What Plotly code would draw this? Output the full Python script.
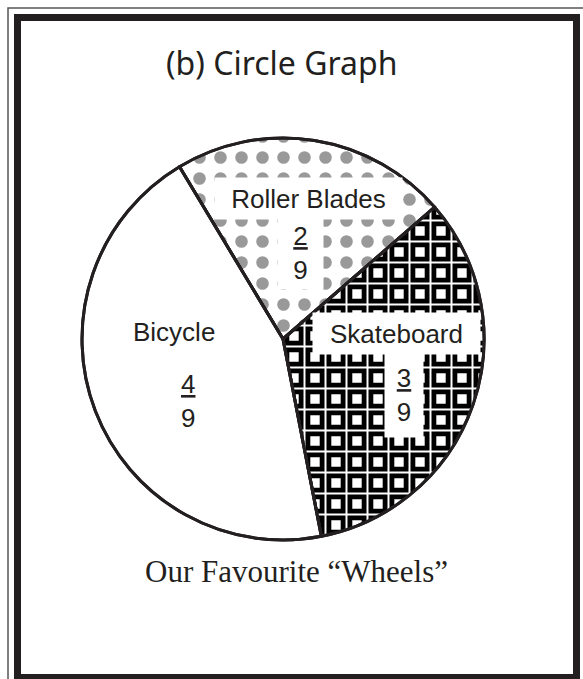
import plotly.graph_objects as go

# data
labels = ["Roller Blades", "Skateboard", "Bicycle"]
counts = [2, 3, 4]
total = 9
chart_title = "(b) Circle Graph"
caption = "Our Favourite \u201cWheels\u201d"

W, H = 583, 679
INK = "#231f20"


def px(x):
    return x / W


def py(y):
    return 1 - y / H


# label / fraction boxes, in pixels: (cx, cy, box w, box h)
label_pos = {
    "Roller Blades": ((308, 198, 187, 41), (300, 253, 45, 72)),
    "Skateboard": ((396, 333, 167, 41), (404, 395, 38, 84)),
    "Bicycle": ((174, 332, None, None), (188, 401, None, None)),
}

pie_domain = dict(x=[px(82), px(484)], y=[py(540), py(138)])

fig = go.Figure()

# base pie with fill patterns
fig.add_trace(go.Pie(
    labels=labels,
    values=counts,
    sort=False,
    direction="clockwise",
    rotation=-31,
    textinfo="none",
    hoverinfo="label+value",
    domain=pie_domain,
    marker=dict(
        colors=["white", "white", "white"],
        line=dict(color=INK, width=3),
        pattern=dict(
            shape=[".", "+", ""],
            fgcolor=["#999999", "black", "white"],
            bgcolor=["white", "white", "white"],
            size=[21, 21, 10],
            solidity=[0.28, 0.8, 0.1],
            fillmode="replace",
        ),
    ),
))

# thin white lines running through the black grid of the skateboard slice
fig.add_trace(go.Pie(
    labels=labels,
    values=counts,
    sort=False,
    direction="clockwise",
    rotation=-31,
    textinfo="none",
    hoverinfo="skip",
    domain=pie_domain,
    marker=dict(
        colors=["rgba(0,0,0,0)"] * 3,
        line=dict(color=INK, width=3),
        pattern=dict(
            shape=["", "+", ""],
            fgcolor=["rgba(0,0,0,0)", "white", "rgba(0,0,0,0)"],
            bgcolor=["rgba(0,0,0,0)"] * 3,
            size=[10, 21, 10],
            solidity=[0.1, 0.18, 0.1],
            fillmode="replace",
        ),
    ),
))

label_font = dict(family="Liberation Sans, Arial, sans-serif", size=26, color=INK)
annotations = []
for name, n in zip(labels, counts):
    (lx, ly, lw, lh), (fx, fy, fw, fh) = label_pos[name]
    a = dict(text=name, x=px(lx), y=py(ly), xref="paper", yref="paper",
             xanchor="center", yanchor="middle", showarrow=False,
             font=label_font, bgcolor="white", borderpad=0)
    if lw:
        a.update(width=lw, height=lh)
    annotations.append(a)
    f = dict(text=f"<u>{n}</u><br>{total}", x=px(fx), y=py(fy),
             xref="paper", yref="paper", xanchor="center", yanchor="middle",
             showarrow=False, font=label_font, bgcolor="white", borderpad=0)
    if fw:
        f.update(width=fw, height=fh)
    annotations.append(f)

annotations.append(dict(
    text=chart_title, x=px(282), y=py(62), xref="paper", yref="paper",
    xanchor="center", yanchor="middle", showarrow=False,
    font=dict(family="Comic Sans MS, Noto Sans, sans-serif", size=32, color=INK),
))
annotations.append(dict(
    text=caption, x=px(296), y=py(571), xref="paper", yref="paper",
    xanchor="center", yanchor="middle", showarrow=False,
    font=dict(family="Liberation Serif, Times New Roman, serif", size=31, color=INK),
))

shapes = [
    # outer thin frame
    dict(type="rect", xref="paper", yref="paper",
         x0=px(8), x1=px(595), y0=py(8), y1=py(695),
         line=dict(color="#555555", width=1.5)),
    # thick frame
    dict(type="rect", xref="paper", yref="paper",
         x0=px(17.5), x1=px(576.5), y0=py(17.5), y1=py(677.5),
         line=dict(color=INK, width=7)),
]

fig.update_layout(
    width=W, height=H,
    margin=dict(l=0, r=0, t=0, b=0),
    paper_bgcolor="white",
    plot_bgcolor="white",
    showlegend=False,
    annotations=annotations,
    shapes=shapes,
)

fig.write_html("out.html", config={"displayModeBar": False},
               post_script="document.body.style.margin='0';")
